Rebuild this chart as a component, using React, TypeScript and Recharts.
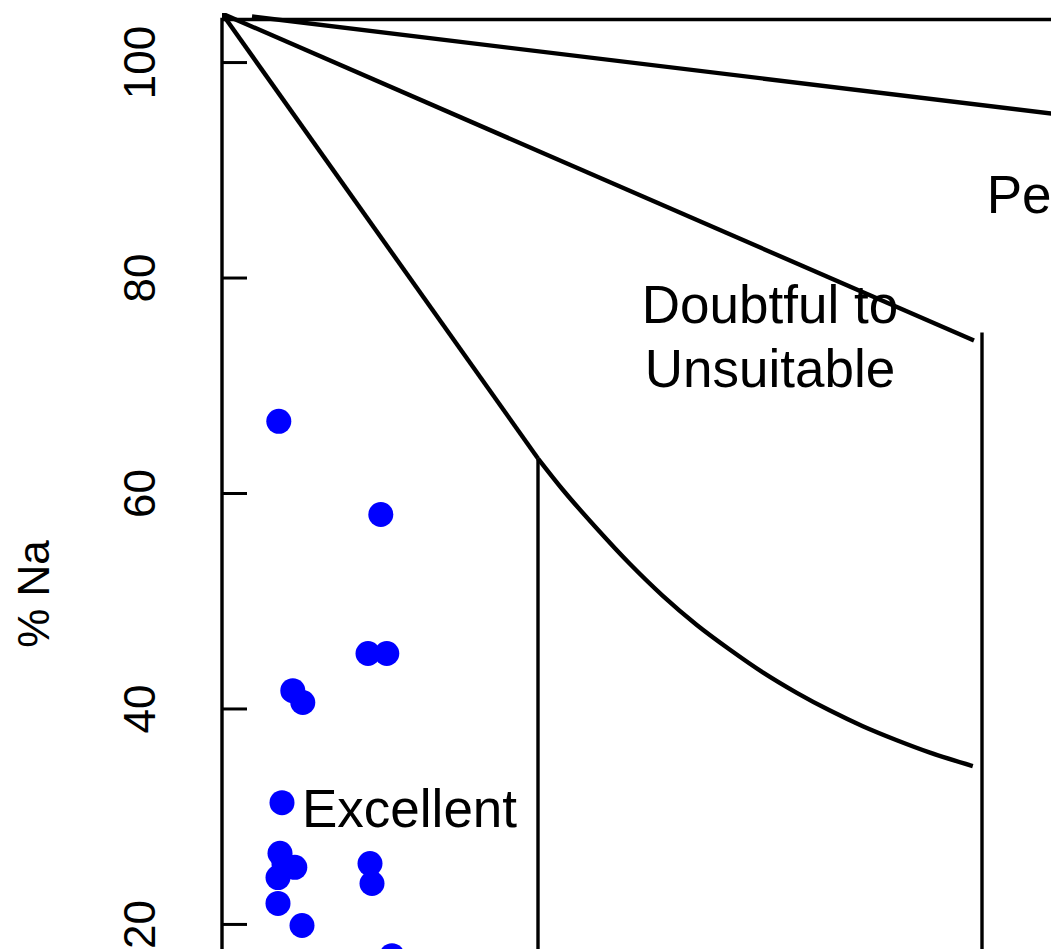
import React from "react";
import {
  ComposedChart,
  Line,
  Scatter,
  XAxis,
  YAxis,
  ReferenceArea,
  ReferenceDot,
  Label,
} from "recharts";

// x is in chart units (left box edge = 0), y is % Na
const excellentStraight = [
  { x: 0, y: 104.55 },
  { x: 790, y: 63.25 },
];
const excellentCurve = [
  { x: 790, y: 63.25 },
  { x: 852, y: 60.35 },
  { x: 937, y: 56.75 },
  { x: 1020, y: 53.45 },
  { x: 1102, y: 50.5 },
  { x: 1187, y: 47.8 },
  { x: 1270, y: 45.5 },
  { x: 1352, y: 43.4 },
  { x: 1437, y: 41.5 },
  { x: 1520, y: 39.85 },
  { x: 1602, y: 38.4 },
  { x: 1687, y: 37.1 },
  { x: 1770, y: 35.95 },
  { x: 1877, y: 34.7 },
];
const boundaryDoubtful = [
  { x: 0, y: 104.55 },
  { x: 1880, y: 74.2 },
];
const boundaryPermissible = [
  { x: 75, y: 104.27 },
  { x: 2600, y: 92.9 },
];
const verticalLeft = [
  { x: 790, y: 63.25 },
  { x: 790, y: -4 },
];
const verticalRight = [
  { x: 1900, y: 74.94 },
  { x: 1900, y: -4 },
];

const samples = [
  { x: 142, y: 66.7 },
  { x: 397, y: 58.05 },
  { x: 365, y: 45.15 },
  { x: 412, y: 45.15 },
  { x: 177, y: 41.7 },
  { x: 202, y: 40.6 },
  { x: 150, y: 31.3 },
  { x: 145, y: 26.6 },
  { x: 182, y: 25.3 },
  { x: 140, y: 24.35 },
  { x: 155, y: 25.6 },
  { x: 370, y: 25.65 },
  { x: 375, y: 23.8 },
  { x: 140, y: 21.95 },
  { x: 200, y: 19.9 },
  { x: 425, y: 17.1 },
];

const yTicks = [0, 20, 40, 60, 80, 100];

const zoneLabels = [
  { x: 200, y: 29.0, lines: ["Excellent"], anchor: "start" },
  { x: 1370, y: 75.8, lines: ["Doubtful to", "Unsuitable"], anchor: "middle" },
  { x: 2328, y: 86.0, lines: ["Permissible to", "Doubtful"], anchor: "middle" },
];

const FONT = "'Liberation Sans', Arial, sans-serif";
const PLOT_LEFT = 222;

const YTick = (props: any) => {
  const y = props.payload.coordinate;
  return (
    <g>
      <line x1={PLOT_LEFT} x2={PLOT_LEFT + 25} y1={y} y2={y} stroke="#000" strokeWidth={3} />
      <text
        x={155}
        y={y}
        transform={`rotate(-90, 155, ${y})`}
        textAnchor="middle"
        fontFamily={FONT}
        fontSize={44}
        fill="#000"
      >
        {props.payload.value}
      </text>
    </g>
  );
};

const YTitle = (props: any) => {
  const vb = props.viewBox;
  const cy = vb.y + vb.height / 2 - 4;
  return (
    <text
      x={49}
      y={cy}
      transform={`rotate(-90, 49, ${cy})`}
      textAnchor="middle"
      fontFamily={FONT}
      fontSize={44}
      fill="#000"
    >
      % Na
    </text>
  );
};

const dot = (props: any) => <circle cx={props.cx} cy={props.cy} r={12.5} fill="#0000ff" />;

const lineProps = { dataKey: "y", stroke: "#000", dot: false, isAnimationActive: false };

export default function App() {
  return (
    <div
      style={{
        position: "fixed",
        left: 0,
        top: 0,
        width: 1051,
        height: 949,
        overflow: "hidden",
        background: "#fff",
      }}
    >
      <ComposedChart width={1292} height={1203} margin={{ top: 13, right: 30, left: 0, bottom: 20 }}>
        <XAxis type="number" dataKey="x" domain={[0, 2600]} hide allowDataOverflow />
        <YAxis
          type="number"
          dataKey="y"
          domain={[-4, 104.6]}
          ticks={yTicks}
          width={PLOT_LEFT}
          axisLine={false}
          tickLine={false}
          tick={YTick}
          allowDataOverflow
        >
          <Label content={YTitle} />
        </YAxis>
        <ReferenceArea x1={0} x2={2600} y1={-4} y2={104} fill="none" stroke="#000" strokeWidth={3.4} />
        <Line {...lineProps} data={excellentStraight} strokeWidth={4.4} type="linear" />
        <Line {...lineProps} data={excellentCurve} strokeWidth={4.4} type="monotone" />
        <Line {...lineProps} data={boundaryDoubtful} strokeWidth={4.4} type="linear" />
        <Line {...lineProps} data={boundaryPermissible} strokeWidth={4.4} type="linear" />
        <Line {...lineProps} data={verticalLeft} strokeWidth={3.4} type="linear" />
        <Line {...lineProps} data={verticalRight} strokeWidth={3.4} type="linear" />
        <Scatter data={samples} dataKey="y" shape={dot} isAnimationActive={false} />
        {zoneLabels.map((z, i) => (
          <ReferenceDot
            key={i}
            x={z.x}
            y={z.y}
            r={0}
            shape={(p: any) => (
              <text x={p.cx} y={p.cy} textAnchor={z.anchor} fontFamily={FONT} fontSize={53} fill="#000">
                {z.lines.map((t, j) => (
                  <tspan key={j} x={p.cx} dy={j === 0 ? 0 : 64}>
                    {t}
                  </tspan>
                ))}
              </text>
            )}
          />
        ))}
      </ComposedChart>
    </div>
  );
}
